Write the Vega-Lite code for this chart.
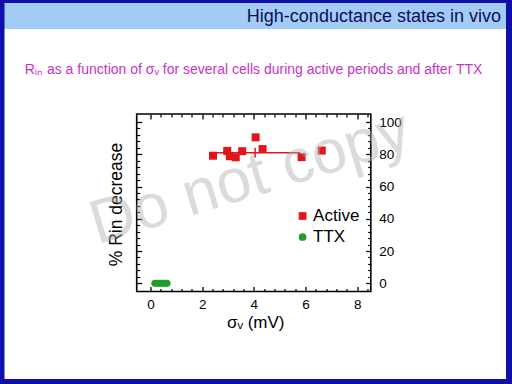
{
  "$schema": "https://vega.github.io/schema/vega-lite/v6.json",
  "background": "#1010a8",
  "padding": {"left": 4.5, "top": 3, "right": 6, "bottom": 5},
  "spacing": 0,
  "datasets": {
    "points": [
      {"series": "Active", "sigma": 2.42, "rin": 79.1},
      {"series": "Active", "sigma": 2.97, "rin": 82.1},
      {"series": "Active", "sigma": 3.07, "rin": 78.8},
      {"series": "Active", "sigma": 3.3, "rin": 78.1},
      {"series": "Active", "sigma": 3.55, "rin": 81.9},
      {"series": "Active", "sigma": 4.07, "rin": 90.5},
      {"series": "Active", "sigma": 4.34, "rin": 83.2},
      {"series": "Active", "sigma": 5.85, "rin": 78.2},
      {"series": "Active", "sigma": 6.63, "rin": 82.3},
      {"series": "TTX", "sigma": 0.17, "rin": 0},
      {"series": "TTX", "sigma": 0.25, "rin": 0},
      {"series": "TTX", "sigma": 0.33, "rin": 0},
      {"series": "TTX", "sigma": 0.41, "rin": 0},
      {"series": "TTX", "sigma": 0.49, "rin": 0},
      {"series": "TTX", "sigma": 0.57, "rin": 0},
      {"series": "TTX", "sigma": 0.64, "rin": 0}
    ],
    "errorbar": [
      {"sigma": 4.05, "sigma_lo": 2.31, "sigma_hi": 5.79, "rin": 81, "rin_lo": 78, "rin_hi": 84}
    ],
    "header": [{"label": "High-conductance states in vivo"}],
    "subtitle": [{"label": "Rᵢₙ as a function of σᵥ for several cells during active periods and after TTX"}],
    "watermark": [{"label": "Do not copy"}]
  },
  "vconcat": [
    {
      "width": 501.5,
      "height": 26,
      "view": {"fill": "#a3ccf5", "stroke": null},
      "data": {"name": "header"},
      "mark": {"type": "text", "align": "right", "baseline": "middle", "fontSize": 18, "font": "Liberation Sans", "color": "#0c0c5c"},
      "encoding": {
        "x": {"datum": 0.99, "type": "quantitative", "scale": {"domain": [0, 1], "nice": false, "zero": false}, "axis": null},
        "y": {"datum": 0.473, "type": "quantitative", "scale": {"domain": [0, 1], "nice": false, "zero": false}, "axis": null},
        "text": {"field": "label", "type": "nominal"}
      }
    },
    {
      "width": 501.5,
      "height": 350,
      "view": {"fill": "white", "stroke": null},
      "resolve": {"axis": {"x": "independent", "y": "independent"}},
      "layer": [
        {
          "data": {"name": "points"},
          "transform": [{"filter": "datum.series === 'Active'"}],
          "mark": {"type": "point", "filled": true, "size": 64, "opacity": 1},
          "encoding": {
            "x": {"field": "sigma", "type": "quantitative", "scale": {"domain": [-5.652, 13.763], "nice": false, "zero": false},
              "axis": {"orient": "bottom", "offset": -87.5, "values": [0, 2, 4, 6, 8], "tickSize": -5, "tickWidth": 1.3, "tickColor": "black", "labelPadding": 10.5, "labelFontSize": 13.5, "labelColor": "black", "labelOverlap": false, "labelFlush": false, "title": "σᵥ (mV)", "titleFontSize": 17, "titleFontWeight": "normal", "titleColor": "black", "titlePadding": 4, "domain": false, "grid": false}},
            "y": {"field": "rin", "type": "quantitative", "scale": {"domain": [-59.33, 157.66], "nice": false, "zero": false},
              "axis": {"orient": "left", "offset": -132.2, "values": [0, 20, 40, 60, 80, 100], "tickSize": -5, "tickWidth": 1.3, "tickColor": "black", "labels": false, "title": "% Rin decrease", "titleFontSize": 17.5, "titleFontWeight": "normal", "titleColor": "black", "titlePadding": 11, "domain": false, "grid": false}},
            "color": {"field": "series", "type": "nominal", "scale": {"domain": ["Active", "TTX"], "range": ["#e3141b", "#1e9e28"]}, "legend": {"orient": "none", "legendX": 289.6, "legendY": 204.5, "title": null}},
            "shape": {"field": "series", "type": "nominal", "scale": {"domain": ["Active", "TTX"], "range": ["square", "circle"]}, "legend": {"orient": "none", "legendX": 289.6, "legendY": 204.5, "title": null}}
          }
        },
        {
          "data": {"name": "points"},
          "transform": [{"filter": "datum.series === 'TTX'"}],
          "mark": {"type": "point", "filled": true, "size": 50, "opacity": 1},
          "encoding": {
            "x": {"field": "sigma", "type": "quantitative", "scale": {"domain": [-5.652, 13.763], "nice": false, "zero": false},
              "axis": {"orient": "bottom", "offset": -87.5, "values": [0.4, 0.8, 1.2, 1.6, 2.4, 2.8, 3.2, 3.6, 4.4, 4.8, 5.2, 5.6, 6.4, 6.8, 7.2, 7.6, 8.4], "tickSize": -3, "tickWidth": 1.2, "tickColor": "black", "labels": false, "title": null, "domain": false, "grid": false}},
            "y": {"field": "rin", "type": "quantitative", "scale": {"domain": [-59.33, 157.66], "nice": false, "zero": false},
              "axis": {"orient": "left", "offset": -132.2, "values": [4, 8, 12, 16, 24, 28, 32, 36, 44, 48, 52, 56, 64, 68, 72, 76, 84, 88, 92, 96], "tickSize": -3, "tickWidth": 1.2, "tickColor": "black", "labels": false, "title": null, "domain": false, "grid": false}},
            "color": {"field": "series", "type": "nominal", "scale": {"domain": ["Active", "TTX"], "range": ["#e3141b", "#1e9e28"]}, "legend": {"orient": "none", "legendX": 289.6, "legendY": 204.5, "title": null}},
            "shape": {"field": "series", "type": "nominal", "scale": {"domain": ["Active", "TTX"], "range": ["square", "circle"]}, "legend": {"orient": "none", "legendX": 289.6, "legendY": 204.5, "title": null}}
          }
        },
        {
          "data": {"name": "errorbar"},
          "mark": {"type": "rule", "color": "#e3141b", "strokeWidth": 1.5},
          "encoding": {
            "x": {"field": "sigma_lo", "type": "quantitative", "scale": {"domain": [-5.652, 13.763], "nice": false, "zero": false},
              "axis": {"orient": "top", "offset": -85, "values": [0, 2, 4, 6, 8], "tickSize": -5, "tickWidth": 1.3, "tickColor": "black", "labels": false, "title": null, "domain": false, "grid": false}},
            "x2": {"field": "sigma_hi"},
            "y": {"field": "rin", "type": "quantitative", "scale": {"domain": [-59.33, 157.66], "nice": false, "zero": false},
              "axis": {"orient": "right", "offset": -135.3, "values": [0, 20, 40, 60, 80, 100], "tickSize": -5, "tickWidth": 1.3, "tickColor": "black", "labelPadding": 13, "labelFontSize": 13.5, "labelColor": "black", "labelOverlap": false, "labelFlush": false, "title": null, "domain": false, "grid": false}}
          }
        },
        {
          "data": {"name": "errorbar"},
          "mark": {"type": "rule", "color": "#e3141b", "strokeWidth": 1.5},
          "encoding": {
            "x": {"field": "sigma", "type": "quantitative", "scale": {"domain": [-5.652, 13.763], "nice": false, "zero": false},
              "axis": {"orient": "top", "offset": -85, "values": [0.4, 0.8, 1.2, 1.6, 2.4, 2.8, 3.2, 3.6, 4.4, 4.8, 5.2, 5.6, 6.4, 6.8, 7.2, 7.6, 8.4], "tickSize": -3, "tickWidth": 1.2, "tickColor": "black", "labels": false, "title": null, "domain": false, "grid": false}},
            "y": {"field": "rin_lo", "type": "quantitative", "scale": {"domain": [-59.33, 157.66], "nice": false, "zero": false},
              "axis": {"orient": "right", "offset": -135.3, "values": [4, 8, 12, 16, 24, 28, 32, 36, 44, 48, 52, 56, 64, 68, 72, 76, 84, 88, 92, 96], "tickSize": -3, "tickWidth": 1.2, "tickColor": "black", "labels": false, "title": null, "domain": false, "grid": false}},
            "y2": {"field": "rin_hi"}
          }
        },
        {
          "data": {"values": [{}]},
          "mark": {"type": "rect", "fill": "transparent", "stroke": "black", "strokeWidth": 1.6},
          "encoding": {
            "x": {"datum": -0.534, "type": "quantitative", "scale": {"domain": [-5.652, 13.763], "nice": false, "zero": false}, "axis": null},
            "x2": {"datum": 8.53},
            "y": {"datum": -5.08, "type": "quantitative", "scale": {"domain": [-59.33, 157.66], "nice": false, "zero": false}, "axis": null},
            "y2": {"datum": 104.96}
          }
        },
        {
          "data": {"name": "subtitle"},
          "mark": {"type": "text", "align": "center", "baseline": "middle", "fontSize": 14, "font": "Liberation Sans", "color": "#c832c8"},
          "encoding": {
            "x": {"datum": 3.99, "type": "quantitative", "scale": {"domain": [-5.652, 13.763], "nice": false, "zero": false}, "axis": null},
            "y": {"datum": 132.2, "type": "quantitative", "scale": {"domain": [-59.33, 157.66], "nice": false, "zero": false}, "axis": null},
            "text": {"field": "label", "type": "nominal"}
          }
        },
        {
          "data": {"name": "watermark"},
          "mark": {"type": "text", "align": "center", "baseline": "middle", "fontSize": 62, "font": "Liberation Sans", "angle": -17, "color": "#b0b0b0", "opacity": 0.45},
          "encoding": {
            "x": {"datum": 3.85, "type": "quantitative", "scale": {"domain": [-5.652, 13.763], "nice": false, "zero": false}, "axis": null},
            "y": {"datum": 65.3, "type": "quantitative", "scale": {"domain": [-59.33, 157.66], "nice": false, "zero": false}, "axis": null},
            "text": {"field": "label", "type": "nominal"}
          }
        }
      ]
    }
  ],
  "config": {
    "font": "Liberation Sans",
    "view": {"stroke": null},
    "axis": {"labelFont": "Liberation Sans", "titleFont": "Liberation Sans"},
    "legend": {"labelFontSize": 17, "labelFont": "Liberation Sans", "labelColor": "black", "symbolSize": 60, "symbolStrokeWidth": 0, "rowPadding": 3, "labelOffset": 2, "padding": 0, "symbolOpacity": 1}
  }
}
